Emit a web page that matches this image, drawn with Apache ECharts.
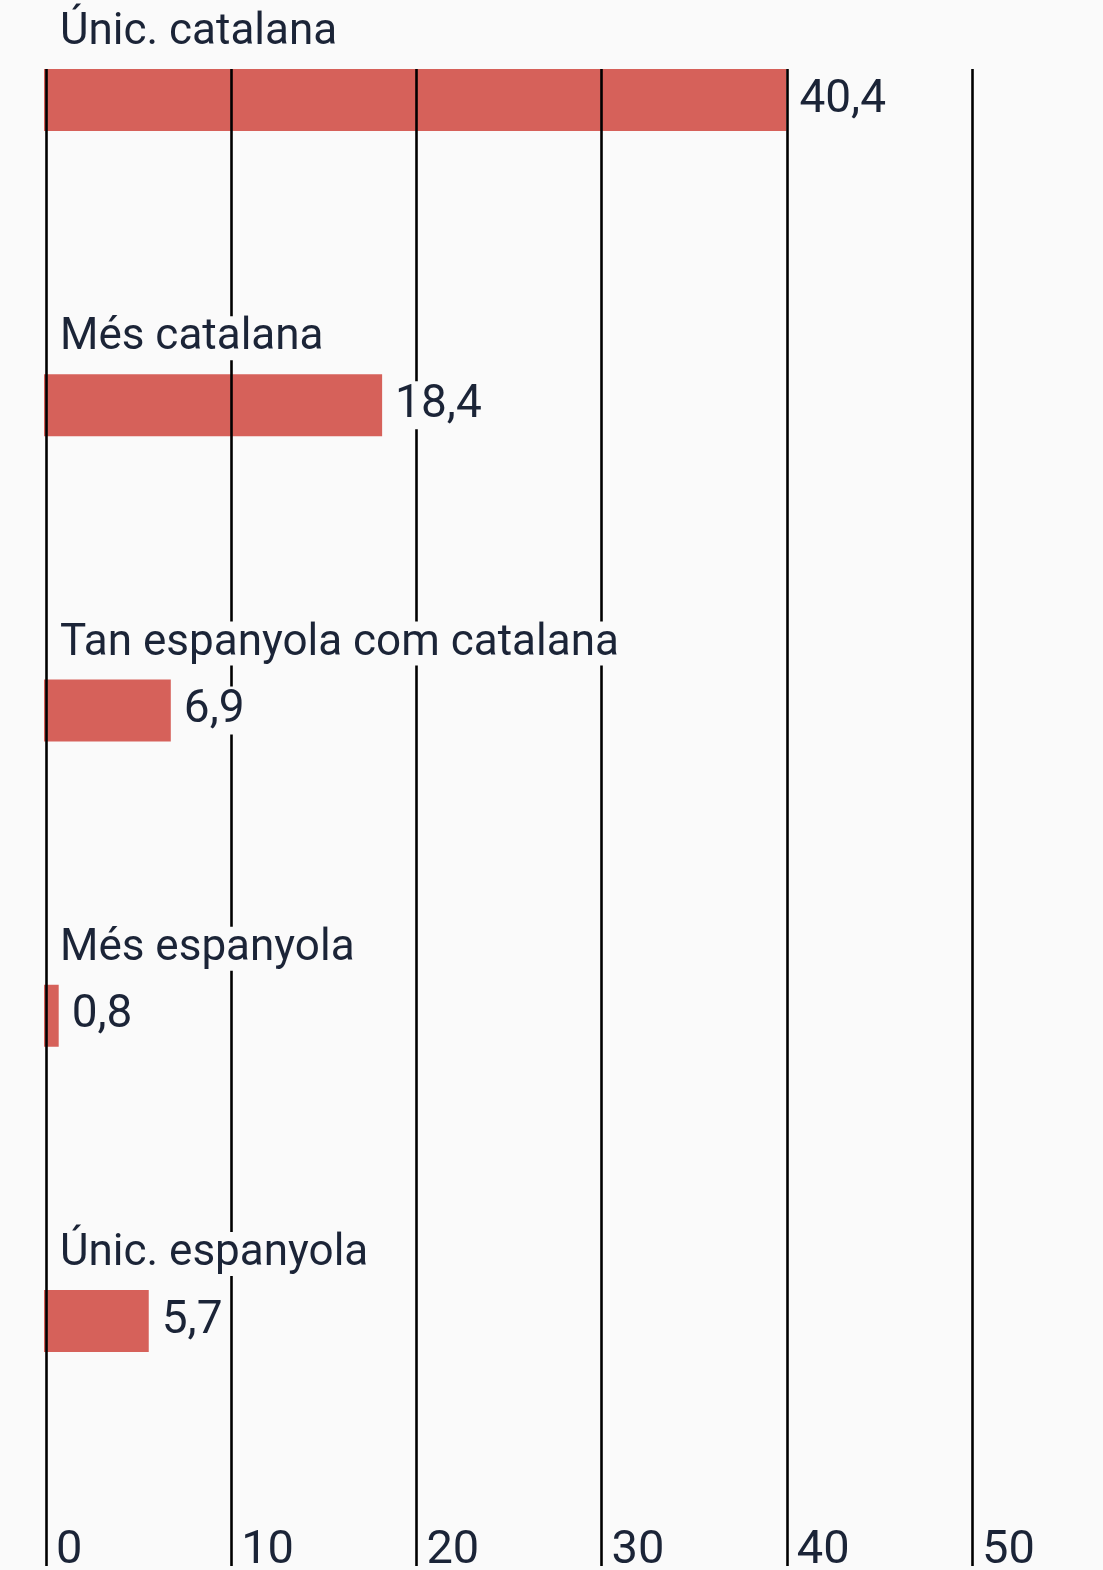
<!DOCTYPE html>
<html>
<head>
<meta charset="utf-8">
<script src="https://cdn.jsdelivr.net/npm/echarts@6/dist/echarts.min.js"></script>
<style>
  html, body { margin: 0; padding: 0; background: #fafafa; }
  #chart { width: 1103px; height: 1570px; }
</style>
</head>
<body>
<div id="chart"></div>
<script>
// Dades
const categories = [
  "Únic. catalana",
  "Més catalana",
  "Tan espanyola com catalana",
  "Més espanyola",
  "Únic. espanyola",
];
const values = [40.4, 18.4, 6.9, 0.8, 5.7];
const xMin = 0;
const xMax = 50;
const xStep = 10;

const textColor = "#1b2437";
const barColor = "#d6615a";
const bg = "#fafafa";
const font = "Roboto";

var myChart = echarts.init(document.getElementById("chart"));

var option = {
  backgroundColor: bg,
  animation: false,
  grid: [
    // graella de les línies verticals
    { left: 46, right: 131, top: 69, bottom: 4, outerBoundsMode: "none" },
    // graella de les barres
    { left: 44, right: 131, top: 100, bottom: 249, outerBoundsMode: "none" },
  ],
  xAxis: [
    {
      gridIndex: 0,
      type: "value",
      min: xMin,
      max: xMax,
      interval: xStep,
      z: 2,
      axisLine: { show: false },
      axisTick: { show: false },
      splitLine: { show: true, lineStyle: { color: "#000", width: 2.6 } },
      axisLabel: {
        inside: false,
        margin: -38,
        align: "left",
        verticalAlign: "top",
        padding: [0, 0, 0, 10],
        color: textColor,
        fontFamily: font,
        fontSize: 47,
      },
    },
    {
      gridIndex: 1,
      type: "value",
      min: xMin,
      max: 50.5,
      show: false,
    },
  ],
  yAxis: [
    { gridIndex: 0, type: "value", show: false },
    {
      gridIndex: 1,
      type: "category",
      data: categories,
      inverse: true,
      boundaryGap: false,
      show: false,
    },
  ],
  series: [
    {
      // barres
      type: "bar",
      xAxisIndex: 1,
      yAxisIndex: 1,
      data: values,
      barWidth: 62,
      barGap: "-100%",
      clip: false,
      z: 1,
      itemStyle: { color: barColor },
    },
    {
      // valors
      type: "bar",
      xAxisIndex: 1,
      yAxisIndex: 1,
      data: values,
      barWidth: 62,
      barGap: "-100%",
      clip: false,
      z: 3,
      itemStyle: { color: "transparent" },
      label: {
        show: true,
        position: "right",
        distance: 11,
        formatter: (p) => String(p.value).replace(".", ","),
        color: textColor,
        fontFamily: font,
        fontSize: 46,
        backgroundColor: bg,
        padding: [2, 2, 0, 2],
      },
    },
    {
      // noms de categoria
      type: "bar",
      xAxisIndex: 1,
      yAxisIndex: 1,
      data: values,
      barWidth: 62,
      barGap: "-100%",
      clip: false,
      z: 3,
      itemStyle: { color: "transparent" },
      label: {
        show: true,
        position: [14, -36],
        align: "left",
        verticalAlign: "middle",
        formatter: "{b}",
        color: textColor,
        fontFamily: font,
        fontSize: 44,
        backgroundColor: bg,
        padding: [0, 2],
      },
    },
  ],
};

myChart.setOption(option);
</script>
</body>
</html>
